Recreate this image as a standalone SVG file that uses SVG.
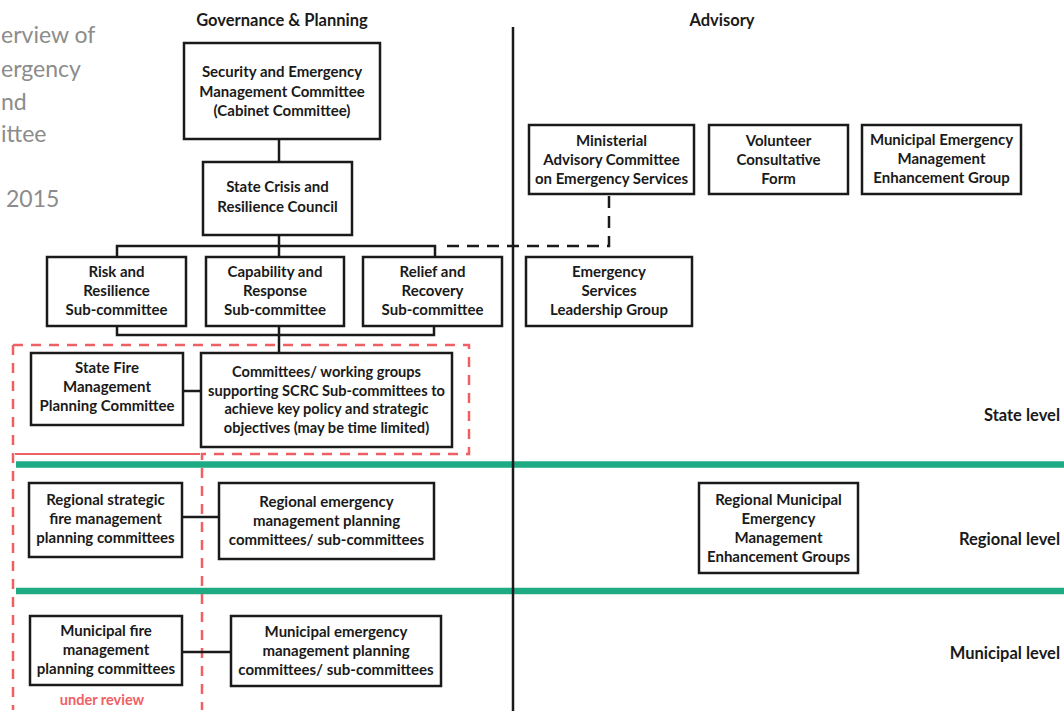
<svg xmlns="http://www.w3.org/2000/svg" width="1064" height="713" viewBox="0 0 1064 713">
<style>
  .bg{fill:#ffffff}
  .box{fill:#ffffff;stroke:#1a1a1a;stroke-width:2.5}
  .lbl{font-family:Lato,"Open Sans","Liberation Sans",sans-serif;font-weight:bold;font-size:15px;fill:#1a1a1a;text-anchor:middle}
  .sm{font-size:14.6px}
  .hdr{font-family:Lato,"Open Sans","Liberation Sans",sans-serif;font-weight:bold;font-size:16.5px;fill:#1a1a1a;text-anchor:middle}
  .lvl{font-family:Lato,"Open Sans","Liberation Sans",sans-serif;font-weight:bold;font-size:16.5px;fill:#1a1a1a;text-anchor:end}
  .title{font-family:Lato,"Open Sans","Liberation Sans",sans-serif;font-size:23px;fill:#8c8c8c;text-anchor:start}
  .rev{font-family:Lato,"Open Sans","Liberation Sans",sans-serif;font-weight:bold;font-size:14.5px;fill:#ef6065;text-anchor:middle}
  .conn{fill:none;stroke:#1a1a1a;stroke-width:2.5}
  .dash{fill:none;stroke:#1a1a1a;stroke-width:2.5;stroke-dasharray:12 8}
  .red{fill:none;stroke:#ef6065;stroke-width:2.5;stroke-dasharray:10 8}
  .redsolid{fill:none;stroke:#ef6065;stroke-width:2.2}
  .green{stroke:#1eaa82;stroke-width:6.5}
</style>
<rect class="bg" x="0" y="0" width="1064" height="713"/>

<g id="title">
  <text class="title" x="1" y="43">erview of</text>
  <text class="title" x="1" y="77">ergency</text>
  <text class="title" x="1" y="110">nd</text>
  <text class="title" x="1" y="142">ittee</text>
  <text class="title" x="6" y="207">2015</text>
</g>

<g id="headers">
  <text class="hdr" x="282" y="26">Governance &amp; Planning</text>
  <text class="hdr" x="722" y="26">Advisory</text>
</g>

<g id="level-bands">
  <line class="green" x1="16" y1="464.5" x2="1064" y2="464.5"/>
  <line class="green" x1="16" y1="591" x2="1064" y2="591"/>
  <text class="lvl" x="1060" y="421">State level</text>
  <text class="lvl" x="1060" y="545">Regional level</text>
  <text class="lvl" x="1060" y="659">Municipal level</text>
</g>

<g id="review-outline">
  <path class="red" d="M13,345 H469 V454 H202 V710"/>
  <path class="red" d="M13,345 V710"/>
  <line class="redsolid" x1="15" y1="454" x2="200" y2="454"/>
  <text class="rev" x="102" y="705">under review</text>
</g>

<g id="connectors">
  <line class="conn" x1="513" y1="27" x2="513" y2="711"/>
  <line class="conn" x1="279" y1="139" x2="279" y2="162"/>
  <line class="conn" x1="279" y1="235" x2="279" y2="257"/>
  <path class="conn" d="M117,257 V246 H435 V257"/>
  <path class="conn" d="M117,326 V335 H434 V326"/>
  <line class="conn" x1="279" y1="326" x2="279" y2="353"/>
  <line class="conn" x1="183" y1="391" x2="201" y2="391"/>
  <line class="conn" x1="182" y1="517" x2="219" y2="517"/>
  <line class="conn" x1="182" y1="652" x2="231" y2="652"/>
  <path class="dash" d="M447,246 H609 V195"/>
</g>

<g id="semc">
  <rect class="box" x="184" y="43" width="196" height="96"/>
  <text class="lbl" x="282" y="77">Security and Emergency</text>
  <text class="lbl" x="282" y="96.5">Management Committee</text>
  <text class="lbl" x="282" y="116">(Cabinet Committee)</text>
</g>

<g id="scrc">
  <rect class="box" x="203" y="162" width="149" height="73"/>
  <text class="lbl" x="277.5" y="192">State Crisis and</text>
  <text class="lbl" x="277.5" y="212">Resilience Council</text>
</g>

<g id="risk">
  <rect class="box" x="47" y="257" width="139" height="69"/>
  <text class="lbl" x="116.5" y="277">Risk and</text>
  <text class="lbl" x="116.5" y="296">Resilience</text>
  <text class="lbl" x="116.5" y="315">Sub-committee</text>
</g>

<g id="capability">
  <rect class="box" x="206" y="257" width="138" height="69"/>
  <text class="lbl" x="275" y="277">Capability and</text>
  <text class="lbl" x="275" y="296">Response</text>
  <text class="lbl" x="275" y="315">Sub-committee</text>
</g>

<g id="relief">
  <rect class="box" x="363" y="257" width="139" height="69"/>
  <text class="lbl" x="432.5" y="277">Relief and</text>
  <text class="lbl" x="432.5" y="296">Recovery</text>
  <text class="lbl" x="432.5" y="315">Sub-committee</text>
</g>

<g id="esl">
  <rect class="box" x="526" y="257" width="166" height="69"/>
  <text class="lbl" x="609" y="277">Emergency</text>
  <text class="lbl" x="609" y="296">Services</text>
  <text class="lbl" x="609" y="315">Leadership Group</text>
</g>

<g id="ministerial">
  <rect class="box" x="529" y="125" width="165" height="69"/>
  <text class="lbl" x="611.5" y="146">Ministerial</text>
  <text class="lbl" x="611.5" y="165">Advisory Committee</text>
  <text class="lbl" x="611.5" y="184">on Emergency Services</text>
</g>

<g id="volunteer">
  <rect class="box" x="709" y="125" width="139" height="69"/>
  <text class="lbl" x="778.5" y="146">Volunteer</text>
  <text class="lbl" x="778.5" y="165">Consultative</text>
  <text class="lbl" x="778.5" y="184">Form</text>
</g>

<g id="memeg">
  <rect class="box" x="862" y="125" width="159" height="69"/>
  <text class="lbl" x="941.5" y="145">Municipal Emergency</text>
  <text class="lbl" x="941.5" y="164">Management</text>
  <text class="lbl" x="941.5" y="183">Enhancement Group</text>
</g>

<g id="sfmpc">
  <rect class="box" x="31" y="353" width="152" height="72"/>
  <text class="lbl" x="107" y="373">State Fire</text>
  <text class="lbl" x="107" y="392">Management</text>
  <text class="lbl" x="107" y="411">Planning Committee</text>
</g>

<g id="working-groups">
  <rect class="box" x="201" y="353" width="251" height="94"/>
  <text class="lbl sm" x="326.5" y="377">Committees/ working groups</text>
  <text class="lbl sm" x="326.5" y="395.5">supporting SCRC Sub-committees to</text>
  <text class="lbl sm" x="326.5" y="414">achieve key policy and strategic</text>
  <text class="lbl sm" x="326.5" y="432.5">objectives (may be time limited)</text>
</g>

<g id="regional-fire">
  <rect class="box" x="29" y="483" width="153" height="74"/>
  <text class="lbl" x="105.5" y="505">Regional strategic</text>
  <text class="lbl" x="105.5" y="524">fire management</text>
  <text class="lbl" x="105.5" y="543">planning committees</text>
</g>

<g id="regional-emergency">
  <rect class="box" x="219" y="483" width="215" height="76"/>
  <text class="lbl" x="326.5" y="507">Regional emergency</text>
  <text class="lbl" x="326.5" y="526">management planning</text>
  <text class="lbl" x="326.5" y="545">committees/ sub-committees</text>
</g>

<g id="regional-memeg">
  <rect class="box" x="699" y="483" width="159" height="90"/>
  <text class="lbl" x="778.5" y="505">Regional Municipal</text>
  <text class="lbl" x="778.5" y="524">Emergency</text>
  <text class="lbl" x="778.5" y="543">Management</text>
  <text class="lbl" x="778.5" y="562">Enhancement Groups</text>
</g>

<g id="municipal-fire">
  <rect class="box" x="30" y="616" width="152" height="69"/>
  <text class="lbl" x="106" y="636">Municipal fire</text>
  <text class="lbl" x="106" y="655">management</text>
  <text class="lbl" x="106" y="674">planning committees</text>
</g>

<g id="municipal-emergency">
  <rect class="box" x="231" y="616" width="210" height="70"/>
  <text class="lbl" x="336" y="637">Municipal emergency</text>
  <text class="lbl" x="336" y="656">management planning</text>
  <text class="lbl" x="336" y="675">committees/ sub-committees</text>
</g>
</svg>
